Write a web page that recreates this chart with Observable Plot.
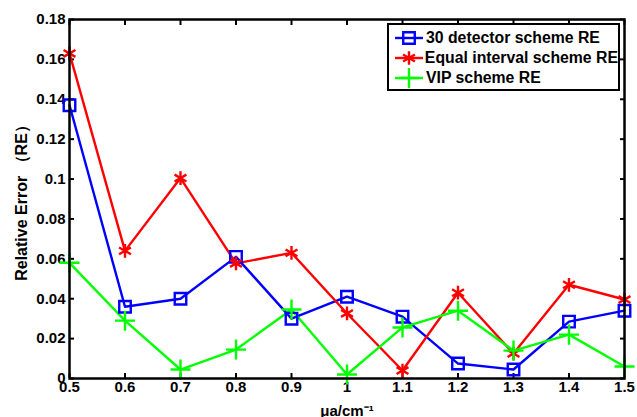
<!DOCTYPE html>
<html><head><meta charset="utf-8">
<script src="https://cdn.jsdelivr.net/npm/d3@7"></script>
<script src="https://cdn.jsdelivr.net/npm/@observablehq/plot@0.6"></script>
<style>
body{margin:0;background:#fff;}
#wrap{position:relative;width:637px;height:417px;font-family:"Liberation Sans",Arial,sans-serif;font-weight:bold;overflow:hidden;}
#legend{position:absolute;left:387px;top:23px;width:233px;height:68px;box-sizing:border-box;border:2px solid #000;background:#fff;padding-top:3px;}
.item{display:flex;align-items:center;height:20px;font-size:15.8px;line-height:20px;white-space:nowrap;}
.item svg{margin-left:5px;margin-right:2px;}
</style></head><body><div id="wrap"></div>
<script>
const xValues = [0.5, 0.6, 0.7, 0.8, 0.9, 1.0, 1.1, 1.2, 1.3, 1.4, 1.5];
const detector30 = [0.137, 0.036, 0.040, 0.061, 0.030, 0.041, 0.031, 0.0075, 0.0045, 0.0285, 0.034];
const equalInterval = [0.163, 0.064, 0.1005, 0.0577, 0.063, 0.0326, 0.004, 0.043, 0.0125, 0.047, 0.0396];
const vip = [0.058, 0.029, 0.0045, 0.0145, 0.0346, 0.002, 0.0256, 0.034, 0.014, 0.022, 0.006];
const seriesNames = ["30 detector scheme RE", "Equal interval scheme RE", "VIP scheme RE"];
const seriesColors = ["#0000ff", "#ff0000", "#00ff00"];
const seriesSymbols = ["square", "asterisk", "plus"];
const xTicks = [0.5, 0.6, 0.7, 0.8, 0.9, 1, 1.1, 1.2, 1.3, 1.4, 1.5];
const yTicks = [0, 0.02, 0.04, 0.06, 0.08, 0.1, 0.12, 0.14, 0.16, 0.18];
const xLabel = "μa/cm⁻¹";
const yLabel = "Relative Error （RE）";

const allSeries = [detector30, equalInterval, vip];
const data = allSeries.flatMap((vals, i) => vals.map((v, j) => ({x: xValues[j], y: v, series: seriesNames[i]})));
const fmt = d => String(d);
const font = {fontSize: 15, fontWeight: "bold"};

const chart = Plot.plot({
  width: 637, height: 417,
  marginLeft: 69, marginRight: 13, marginTop: 19, marginBottom: 39,
  x: {domain: [0.5, 1.5]},
  y: {domain: [0, 0.18]},
  color: {domain: seriesNames, range: seriesColors},
  symbol: {domain: seriesNames, range: seriesSymbols},
  style: {fontFamily: '"Liberation Sans", Arial, sans-serif', fontSize: "15px", fontWeight: "bold", color: "#000", background: "#fff", overflow: "visible"},
  marks: [
    Plot.axisX(xTicks, {...font, tickSize: 0, tickPadding: 3, tickFormat: fmt, label: xLabel, labelAnchor: "center", labelArrow: "none", labelOffset: 37}),
    Plot.axisX(xTicks, {tickSize: -5, strokeWidth: 2, tickFormat: () => "", label: null}),
    Plot.axisX(xTicks, {anchor: "top", tickSize: -5, strokeWidth: 2, tickFormat: () => "", label: null}),
    Plot.axisY(yTicks, {...font, tickSize: 0, tickPadding: 4, tickFormat: fmt, label: yLabel, labelAnchor: "center", labelArrow: "none", labelOffset: 54}),
    Plot.axisY(yTicks, {tickSize: -5, strokeWidth: 2, tickFormat: () => "", label: null}),
    Plot.axisY(yTicks, {anchor: "right", tickSize: -5, strokeWidth: 2, tickFormat: () => "", label: null}),
    Plot.line(data, {x: "x", y: "y", z: "series", stroke: "series", strokeWidth: 2.4}),
    Plot.dot(data, {x: "x", y: "y", stroke: "series", symbol: "series", fill: "none", r: 6.5, strokeWidth: 2.4}),
    Plot.frame({strokeWidth: 2.5, stroke: "#000"})
  ]
});
d3.select(chart).selectAll('g[aria-label="y-axis label"] text').attr("font-size", 16);
const wrap = document.getElementById("wrap");
wrap.appendChild(chart);

const legend = document.createElement("div");
legend.id = "legend";
seriesNames.forEach((name, i) => {
  const item = document.createElement("div");
  item.className = "item";
  const svg = d3.create("svg").attr("width", 30).attr("height", 20);
  svg.append("line").attr("x1", 1).attr("x2", 29).attr("y1", 10).attr("y2", 10).attr("stroke", seriesColors[i]).attr("stroke-width", 2.4);
  const sym = {square: d3.symbolSquare, asterisk: d3.symbolAsterisk, plus: d3.symbolPlus}[seriesSymbols[i]];
  svg.append("path").attr("d", d3.symbol(sym, Math.PI * 6.5 * 6.5)()).attr("transform", "translate(15,10)")
    .attr("fill", "none").attr("stroke", seriesColors[i]).attr("stroke-width", 2.4);
  item.appendChild(svg.node());
  const span = document.createElement("span");
  span.textContent = name;
  item.appendChild(span);
  legend.appendChild(item);
});
wrap.appendChild(legend);
</script></body></html>
